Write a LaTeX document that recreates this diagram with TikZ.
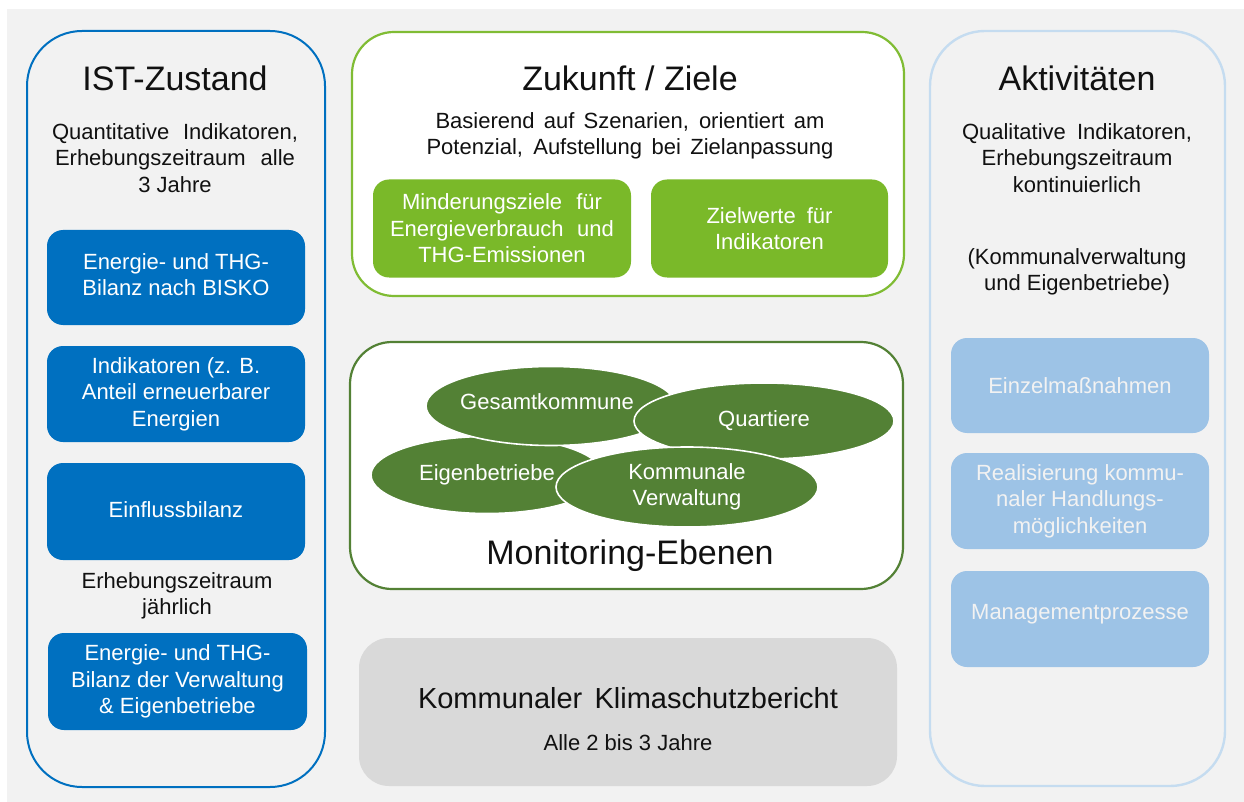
\documentclass[tikz,border=0pt]{standalone}
\usepackage{fontspec}
\setmainfont{Liberation Sans}
\usetikzlibrary{shapes.geometric}
\definecolor{bg}{HTML}{F2F2F2}
\definecolor{istblue}{HTML}{0070C0}
\definecolor{zgreen}{HTML}{7AB929}
\definecolor{zgreenline}{HTML}{80BC34}
\definecolor{dgreen}{HTML}{538135}
\definecolor{lblue}{HTML}{9DC3E6}
\definecolor{lblueline}{HTML}{C5DCF0}
\definecolor{repgray}{HTML}{D9D9D9}
\definecolor{txt}{HTML}{111111}
\newcommand\titlefs{\fontsize{34}{40}\selectfont}
\newcommand\bodyfs{\fontsize{22}{26.5}\selectfont}
\newcommand\repfs{\fontsize{29}{34}\selectfont}
\newcommand\jline[2]{\makebox[#1pt][s]{#2}}
\begin{document}
\begin{tikzpicture}[x=1pt,y=-1pt,
  panel/.style={rectangle,rounded corners=55pt,line width=2pt,inner sep=0pt},
  midpanel/.style={rectangle,rounded corners=42pt,line width=2.2pt,fill=white,inner sep=0pt},
  bluebox/.style={rectangle,rounded corners=16pt,fill=istblue,inner sep=0pt,text=white,font=\bodyfs,align=center},
  greenbox/.style={rectangle,rounded corners=16pt,fill=zgreen,inner sep=0pt,text=white,font=\bodyfs,align=center},
  lbox/.style={rectangle,rounded corners=16pt,fill=lblue,inner sep=0pt,text=bg,font=\bodyfs,align=center},
  ell/.style={ellipse,fill=dgreen,draw=white,line width=1.6pt,inner sep=0pt,text=white,font=\bodyfs,align=center},
  title/.style={font=\titlefs,text=txt,inner sep=0pt},
  body/.style={font=\bodyfs,text=txt,align=center,inner sep=0pt},
  btext/.style={font=\bodyfs,align=center,inner sep=0pt}]
\useasboundingbox (0,0) rectangle (1244,802);
\fill[white] (0,0) rectangle (1244,802);
\fill[bg] (7,9) rectangle (1244,802);

% left panel
\node[panel,draw=istblue,fill=bg,minimum width=298pt,minimum height=756pt] (ist) at (176,409) {};
\node[title] (istT) at (175,78) {IST-Zustand};
\node[body] (istD) at (175,158) {\jline{246}{Quantitative Indikatoren,}\\\jline{240}{Erhebungszeitraum alle}\\3 Jahre};
\node[bluebox,minimum width=258pt,minimum height=95pt] (b1) at (176,277.5) {};
\node[btext,text=white] (b1T) at (176,274.5) {Energie- und THG-\\Bilanz nach BISKO};
\node[bluebox,minimum width=258pt,minimum height=96pt] (b2) at (176,394) {Indikatoren (z. B.\\Anteil erneuerbarer\\Energien};
\node[bluebox,minimum width=258pt,minimum height=97pt] (b3) at (176,511.5) {};
\node[btext,text=white] (b3T) at (176,509.5) {Einflussbilanz};
\node[body] (istJ) at (177,596) {Erhebungszeitraum\\jährlich};
\node[bluebox,minimum width=259pt,minimum height=97pt] (b4) at (177.5,681.5) {Energie- und THG-\\Bilanz der Verwaltung\\\& Eigenbetriebe};

% top middle panel
\node[midpanel,draw=zgreenline,minimum width=552pt,minimum height=264pt] (zuk) at (628,164) {};
\node[title] (zukT) at (630,78) {Zukunft / Ziele};
\node[body] (zukD) at (630,136) {\jline{389}{Basierend auf Szenarien, orientiert am}\\\jline{407}{Potenzial, Aufstellung bei Zielanpassung}};
\node[greenbox,minimum width=258pt,minimum height=98pt] (g1) at (502,228.5) {\jline{200}{Minderungsziele für}\\\jline{224}{Energieverbrauch und}\\THG-Emissionen};
\node[greenbox,minimum width=237pt,minimum height=98pt] (g2) at (769.5,228.5) {\jline{126}{Zielwerte für}\\Indikatoren};

% monitoring panel
\node[midpanel,draw=dgreen,minimum width=553pt,minimum height=247pt] (mon) at (626.5,465.5) {};
\node[ell,minimum width=232pt,minimum height=77pt] (eig) at (487,475) {Eigenbetriebe};
\node[ell,minimum width=250pt,minimum height=79pt] (ges) at (551,406) {};
\node[text=white,font=\bodyfs,inner sep=0pt] (gesT) at (547,402) {Gesamtkommune};
\node[ell,minimum width=260pt,minimum height=76pt] (qua) at (764,421) {Quartiere};
\node[ell,minimum width=262pt,minimum height=80pt] (kom) at (687,487) {Kommunale\\Verwaltung};
\node[title] (monT) at (630,556) {Monitoring-Ebenen};

% report box
\node[rectangle,rounded corners=30pt,fill=repgray,minimum width=538pt,minimum height=148pt,inner sep=0pt] (rep) at (628,712) {};
\node[font=\repfs,text=txt,inner sep=0pt] (repT) at (628,698) {\jline{420}{Kommunaler Klimaschutzbericht}};
\node[body] (repD) at (628,743) {Alle 2 bis 3 Jahre};

% right panel
\node[panel,draw=lblueline,line width=2.4pt,fill=bg,minimum width=295pt,minimum height=755pt] (akt) at (1077.5,408.5) {};
\node[title] (aktT) at (1077,78) {Aktivitäten};
\node[body] (aktD) at (1077,158) {\jline{230}{Qualitative Indikatoren,}\\Erhebungszeitraum\\kontinuierlich};
\node[body] (aktK) at (1077,272) {(Kommunalverwaltung\\und Eigenbetriebe)};
\node[lbox,minimum width=258pt,minimum height=95pt] (l1) at (1080,385.5) {Einzelmaßnahmen};
\node[lbox,minimum width=258pt,minimum height=96pt] (l2) at (1080,501) {\jline{208}{Realisierung kommu-}\\naler Handlungs-\\möglichkeiten};
\node[lbox,minimum width=258pt,minimum height=96pt] (l3) at (1080,619) {};
\node[text=bg,font=\bodyfs,inner sep=0pt] (l3T) at (1080,614) {Managementprozesse};
\end{tikzpicture}
\end{document}
